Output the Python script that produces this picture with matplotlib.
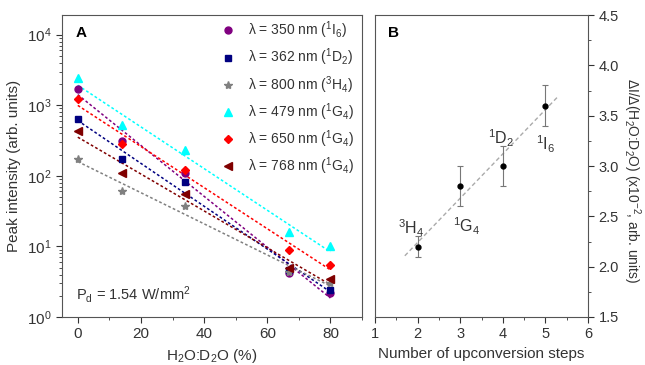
import numpy as np
import matplotlib.pyplot as plt
from matplotlib.ticker import MultipleLocator, LogLocator, NullFormatter

plt.rcParams['font.family'] = ['Liberation Sans', 'DejaVu Sans']
plt.rcParams['mathtext.fontset'] = 'custom'
plt.rcParams['mathtext.rm'] = 'Liberation Sans'
plt.rcParams['mathtext.it'] = 'Liberation Sans:italic'
plt.rcParams['mathtext.bf'] = 'Liberation Sans:bold'

gris = '#333333'
plt.rcParams['text.color'] = gris
plt.rcParams['axes.labelcolor'] = gris
plt.rcParams['xtick.color'] = gris
plt.rcParams['ytick.color'] = gris
plt.rcParams['axes.edgecolor'] = '#555555'

# datos panel A
agua = [0, 14, 34, 67, 80]
i350 = [1700, 310, 110, 4.2, 2.2]
i362 = [630, 175, 82, 4.6, 2.4]
i800 = [175, 60, 37, 4.4, 3.0]
i479 = [2400, 520, 230, 16, 10]
i650 = [1230, 280, 120, 9, 5.5]
i768 = [430, 110, 55, 5.0, 3.4]

series = [
    (i350, 'o', '#800080', 5, r'λ = 350 nm ($^1$I$_6$)'),
    (i362, 's', '#000080', 4.5, r'λ = 362 nm ($^1$D$_2$)'),
    (i800, '*', '#808080', 6, r'λ = 800 nm ($^3$H$_4$)'),
    (i479, '^', '#00ffff', 5.5, r'λ = 479 nm ($^1$G$_4$)'),
    (i650, 'D', '#ff0000', 4.2, r'λ = 650 nm ($^1$G$_4$)'),
    (i768, '<', '#800000', 5.5, r'λ = 768 nm ($^1$G$_4$)'),
]

# datos panel B
pasos = [2, 3, 4, 5]
pendiente = [2.2, 2.8, 3.0, 3.6]
error = [0.1, 0.2, 0.2, 0.2]
niveles = [r'$^3$H$_4$', r'$^1$G$_4$', r'$^1$D$_2$', r'$^1$I$_6$']

fig = plt.figure(figsize=(6.45, 3.65), dpi=100)
axA = fig.add_axes([62/645, 48/365, 300/645, 302/365])
axB = fig.add_axes([375/645, 48/365, 213/645, 302/365])

# --- Panel A
xfit = np.linspace(0, 80, 50)
for vals, mk, col, ms, lab in series:
    p = np.polyfit(agua, np.log10(vals), 1)
    axA.plot(xfit, 10**np.polyval(p, xfit), linestyle=(0, (1.8, 1.5)), color=col, lw=1.1)
for vals, mk, col, ms, lab in series:
    axA.plot(agua, vals, mk, color=col, ms=ms, mec=col, label=lab, linestyle='none')

axA.set_yscale('log')
axA.set_ylim(1, 1.9e4)
axA.set_xlim(-5, 90)
axA.xaxis.set_major_locator(MultipleLocator(20))
axA.xaxis.set_minor_locator(MultipleLocator(10))
axA.yaxis.set_major_locator(LogLocator(base=10, numticks=10))
axA.yaxis.set_minor_locator(LogLocator(base=10, subs=np.arange(2, 10), numticks=20))
axA.yaxis.set_minor_formatter(NullFormatter())
axA.tick_params(which='both', direction='out', top=False, right=False, labelsize=11)
axA.tick_params(which='major', length=4)
axA.tick_params(which='minor', length=2)
axA.set_xlabel(r'H$_2$O:D$_2$O (%)', fontsize=11)
axA.set_ylabel('Peak intensity (arb. units)', fontsize=11)
axA.text(0.045, 0.94, 'A', transform=axA.transAxes, fontsize=11, fontweight='bold',
         color='black', va='center')
axA.text(0.045, 0.075, r'P$_\mathrm{d}$ = 1.54 W/mm$^2$', transform=axA.transAxes,
         fontsize=10.5, va='center')
axA.legend(loc='upper right', frameon=False, fontsize=10, numpoints=1,
           handlelength=1, handletextpad=0.9, labelspacing=0.4,
           borderaxespad=0.2, bbox_to_anchor=(1.0, 1.012))

# --- Panel B
xl = np.array([1.7, 5.3])
pB = np.polyfit(pasos, pendiente, 1)
axB.plot(xl, np.polyval(pB, xl), linestyle=(0, (3, 2)), color='#aaaaaa', lw=1)
axB.errorbar(pasos, pendiente, yerr=error, fmt='o', color='black', ms=3.5,
             ecolor='#777777', elinewidth=0.8, capsize=2.5, capthick=0.8)
posiciones = [(1.85, 2.38), (3.15, 2.40), (3.95, 3.28), (5.0, 3.22)]
for (tx, ty), lab in zip(posiciones, niveles):
    axB.text(tx, ty, lab, fontsize=11.5, ha='center', va='center')

axB.set_xlim(1, 6)
axB.set_ylim(1.5, 4.5)
axB.xaxis.set_major_locator(MultipleLocator(1))
axB.xaxis.set_minor_locator(MultipleLocator(0.5))
axB.yaxis.set_major_locator(MultipleLocator(0.5))
axB.yaxis.set_minor_locator(MultipleLocator(0.25))
axB.yaxis.tick_right()
axB.yaxis.set_label_position('right')
axB.tick_params(which='both', direction='out', top=False, left=False, labelsize=10.5)
axB.tick_params(which='major', length=4)
axB.tick_params(which='minor', length=2)
axB.set_xlabel('Number of upconversion steps', fontsize=11)
axB.set_ylabel(r'$\Delta$I/$\Delta$(H$_2$O:D$_2$O) (x10$^{-2}$, arb. units)',
               fontsize=10, rotation=270, va='center')
axB.yaxis.set_label_coords(1.205, 0.45)
axB.text(0.06, 0.94, 'B', transform=axB.transAxes, fontsize=11, fontweight='bold',
         color='black', va='center')
axB.set_yticklabels([f'{v:.1f}' for v in axB.get_yticks()])

fig.savefig('out.png', dpi=100)
